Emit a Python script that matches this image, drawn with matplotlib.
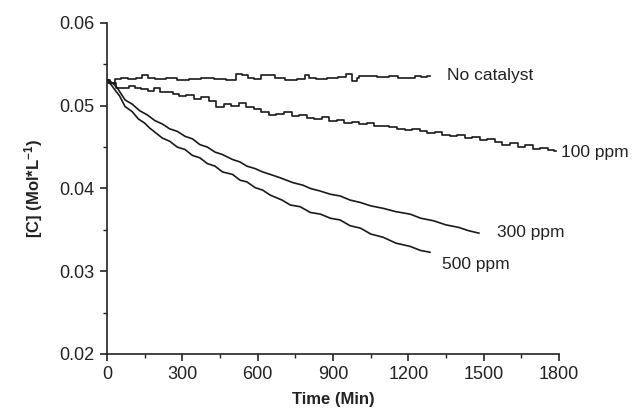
import matplotlib
matplotlib.use('Agg')
import matplotlib.pyplot as plt
from matplotlib.ticker import MultipleLocator

plt.rcParams['font.family'] = ['Liberation Sans', 'DejaVu Sans']
plt.rcParams['mathtext.default'] = 'regular'

# values (time in min, concentration in mol/L)
t_none = [0, 20, 40, 70, 100, 130, 150, 175, 210, 260, 300, 350, 400, 450, 500, 525, 550, 570,
          600, 625, 650, 690, 730, 780, 795, 815, 850, 900, 940, 960, 990, 1000, 1010, 1050,
          1100, 1150, 1170, 1210, 1240, 1260, 1285]
c_none = [0.0531, 0.0528, 0.0532, 0.0533, 0.0532, 0.0533, 0.0537, 0.0533, 0.0532, 0.0533,
          0.0531, 0.0532, 0.0534, 0.0532, 0.0531, 0.0538, 0.0537, 0.0533, 0.0532, 0.0537,
          0.0537, 0.0533, 0.0531, 0.0532, 0.0537, 0.0533, 0.0532, 0.0533, 0.0535, 0.0538,
          0.0530, 0.0533, 0.0536, 0.0536, 0.0535, 0.0536, 0.0533, 0.0533, 0.0536, 0.0535,
          0.0536]

t_100 = [0, 25, 50, 75, 100, 125, 150, 175, 200, 225, 250, 275, 300, 330, 360, 390, 420, 450,
         480, 510, 540, 570, 600, 630, 660, 690, 720, 750, 780, 810, 840, 870, 900, 930, 960,
         990, 1020, 1050, 1080, 1110, 1140, 1170, 1200, 1230, 1260, 1290, 1320, 1350, 1380,
         1410, 1440, 1470, 1500, 1530, 1560, 1590, 1620, 1650, 1680, 1710, 1740, 1770, 1790]
c_100 = [0.0531, 0.0527, 0.0521, 0.0522, 0.0524, 0.0521, 0.0520, 0.0518, 0.0522, 0.0516,
         0.0517, 0.0514, 0.0512, 0.0513, 0.0508, 0.0510, 0.0506, 0.0498, 0.0502, 0.0500,
         0.0503, 0.0499, 0.0496, 0.0493, 0.0489, 0.0490, 0.0492, 0.0487, 0.0489, 0.0485,
         0.0484, 0.0486, 0.0482, 0.0483, 0.0479, 0.0480, 0.0478, 0.0479, 0.0476, 0.0476,
         0.0474, 0.0472, 0.0471, 0.0472, 0.0469, 0.0467, 0.0468, 0.0465, 0.0463, 0.0465,
         0.0461, 0.0462, 0.0458, 0.0460, 0.0456, 0.0453, 0.0455, 0.0450, 0.0452, 0.0448,
         0.0449, 0.0446, 0.0445]

t_300 = [0, 20, 40, 72, 100, 130, 160, 191, 220, 250, 280, 311, 340, 370, 400, 430, 460,
         500, 530, 557, 590, 620, 650, 689, 741, 780, 810, 848, 890, 928, 968, 1010, 1050, 1100,
         1150, 1207, 1250, 1300, 1350, 1400, 1440, 1481]
c_300 = [0.0532, 0.0528, 0.0522, 0.0507, 0.0502, 0.0494, 0.0489, 0.0482, 0.0478, 0.0472,
         0.0469, 0.0463, 0.0460, 0.0453, 0.0450, 0.0444, 0.0441, 0.0435, 0.0432, 0.0427,
         0.0424, 0.0420, 0.0417, 0.0413, 0.0407, 0.0404, 0.0400, 0.0397, 0.0393, 0.0391,
         0.0386, 0.0383, 0.0379, 0.0376, 0.0372, 0.0369, 0.0364, 0.0361, 0.0356, 0.0353,
         0.0349, 0.0346]

t_500 = [0, 15, 32, 50, 72, 100, 125, 150, 170, 191, 220, 250, 280, 311, 340, 370, 400, 430,
         460, 500, 530, 557, 590, 620, 650, 697, 730, 769, 810, 850, 890, 928, 968, 1010, 1050,
         1100, 1150, 1207, 1250, 1286]
c_500 = [0.0529, 0.0526, 0.0519, 0.0512, 0.0499, 0.0493, 0.0484, 0.0479, 0.0473, 0.0468,
         0.0461, 0.0457, 0.0450, 0.0447, 0.0440, 0.0437, 0.0430, 0.0427, 0.0420, 0.0417,
         0.0410, 0.0408, 0.0401, 0.0398, 0.0392, 0.0386, 0.0380, 0.0378, 0.0371, 0.0369,
         0.0364, 0.0362, 0.0355, 0.0352, 0.0345, 0.0341, 0.0334, 0.0330, 0.0325, 0.0323]

labels = ['No catalyst', '100 ppm', '300 ppm', '500 ppm']

fig = plt.figure(figsize=(6.39, 4.13), dpi=100)
ax = fig.add_axes([0.1674, 0.1429, 0.7074, 0.8015])

# the flat curves look stair-like in the reference, the steep ones less so
ax.plot(t_none, c_none, color='#1a1a1a', lw=1.2, drawstyle='steps-mid')
ax.plot(t_100, c_100, color='#1a1a1a', lw=1.2, drawstyle='steps-mid')
ax.plot(t_300, c_300, color='#1a1a1a', lw=1.2)
ax.plot(t_500, c_500, color='#1a1a1a', lw=1.2)

# curve labels placed next to the line ends
ax.text(1354, 0.0536, labels[0], fontsize=12.5, va='center', color='#222222')
ax.text(1808, 0.0443, labels[1], fontsize=12.5, va='center', color='#222222')
ax.text(1553, 0.0347, labels[2], fontsize=12.5, va='center', color='#222222')
ax.text(1334, 0.0308, labels[3], fontsize=12.5, va='center', color='#222222')

ax.set_xlim(0, 1800)
ax.set_ylim(0.02, 0.06)
ax.xaxis.set_major_locator(MultipleLocator(300))
ax.xaxis.set_minor_locator(MultipleLocator(150))
ax.yaxis.set_major_locator(MultipleLocator(0.01))
ax.yaxis.set_minor_locator(MultipleLocator(0.005))
ax.yaxis.set_major_formatter(plt.FormatStrFormatter('%.2f'))

for side in ['top', 'right']:
    ax.spines[side].set_visible(False)
for side in ['left', 'bottom']:
    ax.spines[side].set_linewidth(1.2)
    ax.spines[side].set_color('#222222')

ax.tick_params(which='major', direction='out', length=5, width=1.2, labelsize=13,
               colors='#222222', pad=4)
ax.tick_params(which='minor', direction='out', length=3, width=1.0, colors='#222222')

ax.set_xlabel('Time (Min)', fontsize=12, fontweight='bold', color='#222222', labelpad=6)
ax.set_ylabel('[C] (Mol*L$^{-1}$)', fontsize=12, fontweight='bold', color='#222222',
              labelpad=10)

fig.savefig('out.png', dpi=100)
